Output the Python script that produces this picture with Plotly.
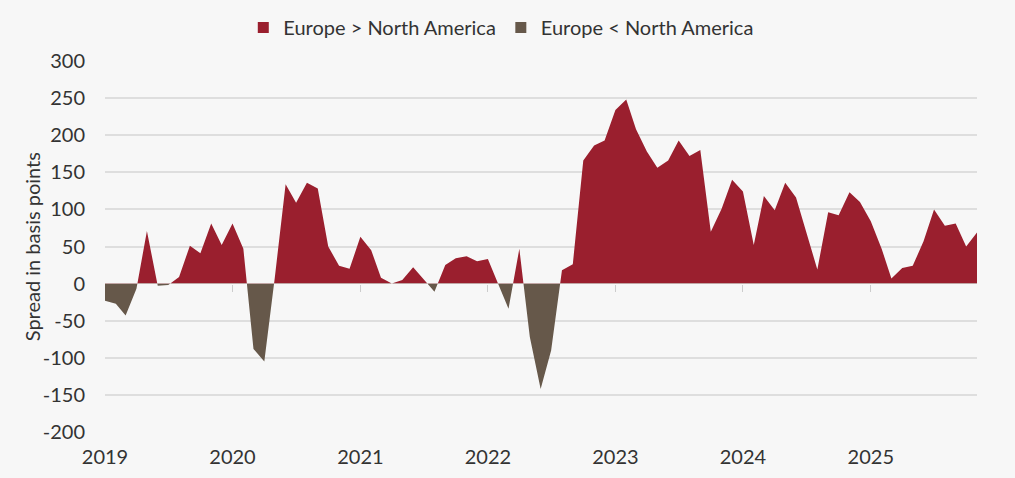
import plotly.graph_objects as go
import pandas as pd

# Monthly spread (bp), Jan 2019 .. Nov 2025
months = pd.date_range("2019-01-01", "2025-11-01", freq="MS")
spread_bp = [
    -23, -27, -43, -7, 71, -3, -2, 9, 51, 41, 81, 52,          # 2019
    81, 47, -88, -105, 8, 134, 109, 136, 128, 50, 24, 20,      # 2020
    63, 45, 8, 0, 5, 22, 6, -11, 25, 34, 37, 30,               # 2021
    33, -3, -34, 47, -72, -142, -90, 18, 26, 166, 186, 193,    # 2022
    234, 248, 208, 178, 156, 166, 193, 172, 180, 70, 101, 140, # 2023
    124, 52, 118, 99, 136, 116, 67, 19, 96, 92, 123, 110,      # 2024
    84, 47, 7, 21, 24, 57, 100, 78, 81, 50, 69,                # 2025
]
series_names = ["Europe > North America", "Europe < North America"]
pos_ticks = [0, 50, 100, 150, 200, 250, 300]
neg_ticks = [-200, -150, -100, -50]
neg_tick_text = ["-200", "-150", "-100", "-50"]
year_labels = ["2019", "2020", "2021", "2022", "2023", "2024", "2025"]
year_ticks = [pd.Timestamp(f"{y}-01-01") for y in year_labels]

BG = "#f7f7f7"
RED = "#9a1f2e"
BROWN = "#66584a"
GRID = "#dedede"
TXT = "#333333"
FONT = "Lato"
FS = 20

fig = go.Figure()
# Positive part: top subplot clips everything below zero
fig.add_trace(go.Scatter(x=months, y=spread_bp, xaxis="x", yaxis="y",
                         fill="tozeroy", fillcolor=RED, mode="lines",
                         line=dict(width=0, color=RED), showlegend=False,
                         hoverinfo="skip"))
# Negative part: bottom subplot clips everything above zero
fig.add_trace(go.Scatter(x=months, y=spread_bp, xaxis="x2", yaxis="y2",
                         fill="tozeroy", fillcolor=BROWN, mode="lines",
                         line=dict(width=0, color=BROWN), showlegend=False,
                         hoverinfo="skip"))
# Legend entries
for name, col in zip(series_names, [RED, BROWN]):
    fig.add_trace(go.Scatter(x=[None], y=[None], mode="markers", name=name,
                             marker=dict(symbol="square", size=11, color=col)))

xr = [months[0], months[-1]]
fig.update_layout(
    width=1015, height=478,
    paper_bgcolor=BG, plot_bgcolor=BG,
    margin=dict(l=97, r=46, t=53, b=54, autoexpand=False),
    font=dict(family=FONT, size=FS, color=TXT),
    showlegend=True,
    legend=dict(orientation="h", xref="container", yref="container",
                x=0.486, xanchor="center", y=1.0, yanchor="top",
                font=dict(size=FS, color=TXT), bgcolor="rgba(0,0,0,0)",
                itemwidth=30, tracegroupgap=0),
    xaxis=dict(domain=[0, 1], anchor="y", range=xr, tickvals=year_ticks,
               showticklabels=False, ticks="outside", ticklen=7,
               tickcolor="#cccccc", showgrid=False, zeroline=False,
               showline=False, automargin=False),
    yaxis=dict(domain=[0.4, 1], anchor="x", range=[0, 300],
               tickvals=pos_ticks, showgrid=True, gridcolor=GRID, gridwidth=1.5,
               zeroline=False, showline=False, ticks="",
               ticklabelstandoff=19, automargin=False),
    xaxis2=dict(domain=[0, 1], anchor="y2", matches="x", range=xr,
                tickvals=year_ticks, ticktext=year_labels, ticks="",
                showgrid=False, zeroline=False, showline=False,
                ticklabelstandoff=11, automargin=False),
    yaxis2=dict(domain=[0, 0.4], anchor="x2", range=[-200, 0],
                tickvals=neg_ticks, ticktext=neg_tick_text,
                showgrid=True, gridcolor=GRID, gridwidth=1.5,
                zeroline=False, showline=False, ticks="",
                ticklabelstandoff=19, automargin=False),
    annotations=[dict(text="Spread in basis points", textangle=-90,
                      xref="paper", yref="paper", x=-0.084, y=0.5,
                      xanchor="center", yanchor="middle", showarrow=False,
                      font=dict(size=FS, color=TXT))],
)
fig.write_html("out.html",
               post_script="document.body.style.backgroundColor='%s';"
                           "document.documentElement.style.backgroundColor='%s';" % (BG, BG))
